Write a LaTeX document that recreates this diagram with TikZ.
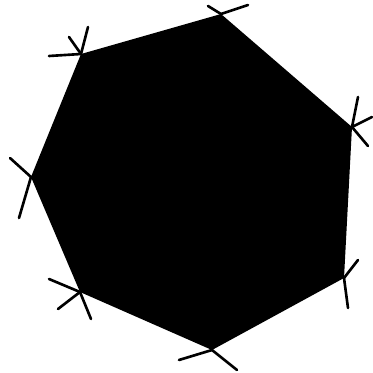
\documentclass[tikz,border=0pt]{standalone}
\usepackage{tikz}

\tikzset{spoke/.style={black,line width=1.5pt,line cap=round}}

\begin{document}
\begin{tikzpicture}[x=0.02cm,y=-0.02cm]
\useasboundingbox (0,0) rectangle (373,373);
\coordinate (v1) at (221,14);
\coordinate (v2) at (81,54);
\coordinate (v3) at (31,177);
\coordinate (v4) at (80,292);
\coordinate (v5) at (212,350);
\coordinate (v6) at (344,278);
\coordinate (v7) at (352,127);
\fill[black] (v1) -- (v2) -- (v3) -- (v4) -- (v5) -- (v6) -- (v7) -- cycle;
\draw[spoke] (v1) -- ++(-13,-8);
\draw[spoke] (v1) -- ++(27,-9);
\draw[spoke] (v2) -- ++(-32,2);
\draw[spoke] (v2) -- ++(-12,-17);
\draw[spoke] (v2) -- ++(7,-27);
\draw[spoke] (v3) -- ++(-21,-19);
\draw[spoke] (v3) -- ++(-12,41);
\draw[spoke] (v4) -- ++(-31,-13);
\draw[spoke] (v4) -- ++(-22,17);
\draw[spoke] (v4) -- ++(11,27);
\draw[spoke] (v5) -- ++(-33,10);
\draw[spoke] (v5) -- ++(25,20);
\draw[spoke] (v6) -- ++(14,-18);
\draw[spoke] (v6) -- ++(4,30);
\draw[spoke] (v7) -- ++(6,-30);
\draw[spoke] (v7) -- ++(20,-10);
\draw[spoke] (v7) -- ++(16,19);
\end{tikzpicture}
\end{document}
